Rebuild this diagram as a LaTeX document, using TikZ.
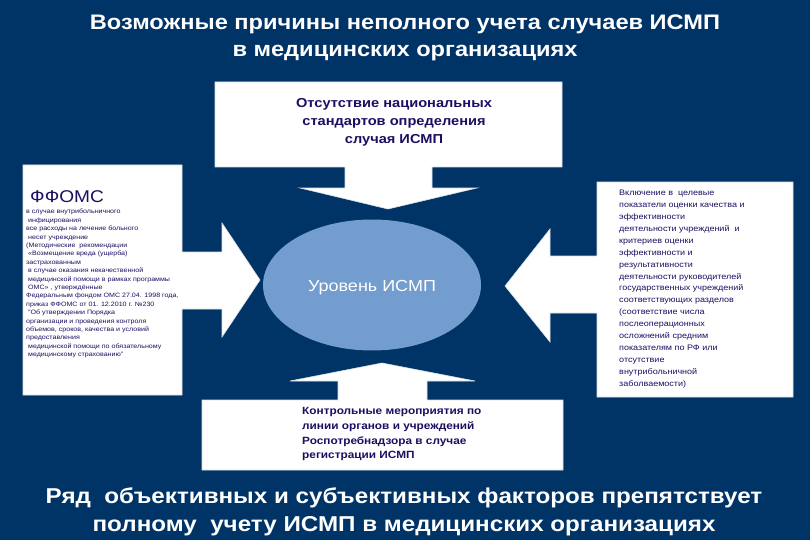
\documentclass[tikz,border=0pt]{standalone}
\usepackage{fontspec}
\setmainfont{Liberation Sans}
\usetikzlibrary{shapes.geometric}
\definecolor{navy}{RGB}{0,51,102}
\definecolor{ell}{RGB}{114,157,206}
\definecolor{ink}{RGB}{30,14,98}
\begin{document}
\begin{tikzpicture}[x=1pt,y=-1pt,
  txt/.style={xscale=1.125,inner sep=0pt,text=ink},
  callout/.style={fill=white,draw=white!85!navy,line width=0.6pt}]
\useasboundingbox (0,0) rectangle (810,540);
\fill[navy] (0,0) rectangle (810,540);
% title
\node[txt,text=white,font=\bfseries\fontsize{21}{27}\selectfont,align=center] (title) at (405,38)
 {Возможные причины неполного учета случаев ИСМП\\в медицинских организациях};
% top callout
\path[callout] (215,82) -- (562,82) -- (562,167) -- (432,167) -- (432,188) -- (477,188) -- (388,209)
  -- (300,188) -- (345,188) -- (345,167) -- (215,167) -- cycle;
\node[txt,font=\bfseries\fontsize{13}{18}\selectfont,align=center] (top) at (394,122)
 {Отсутствие национальных\\стандартов определения\\случая ИСМП};
% bottom callout
\path[callout] (202,470) -- (202,400) -- (338,400) -- (338,381) -- (290,381) -- (382,363) -- (475,381)
  -- (427,381) -- (427,400) -- (563,400) -- (563,470) -- cycle;
\node[txt,anchor=north west,font=\bfseries\fontsize{10.5}{14.8}\selectfont,align=left] (bot) at (302,407)
 {Контрольные мероприятия по\\линии органов и учреждений\\Роспотребнадзора в случае\\регистрации ИСМП};
% left callout
\path[callout] (23,165) -- (182,165) -- (182,252) -- (222,252) -- (222,223) -- (260,280) -- (222,337)
  -- (222,309) -- (182,309) -- (182,395) -- (23,395) -- cycle;
\node[txt,anchor=west,font=\fontsize{17}{18}\selectfont] (ff) at (30,197) {ФФОМС};
\node[txt,anchor=north west,font=\fontsize{6.3}{8.4}\selectfont,align=left] (ftxt) at (26,209)
 {в случае внутрибольничного\\
 \ инфицирования\\
 все расходы на лечение больного\\
 \ несет учреждение\\
 (Методические\ \ рекомендации\\
 \ «Возмещение вреда (ущерба)\\
 застрахованным\\
 \ в случае оказания некачественной\\
 \ медицинской помощи в рамках программы\\
 \ ОМС» , утверждённые\\
 Федеральным фондом ОМС 27.04. 1998 года,\\
 приказ ФФОМС от 01. 12.2010 г. №230\\
 \ "Об утверждении Порядка\\
 организации и проведения контроля\\
 объемов, сроков, качества и условий\\
 предоставления\\
 \ медицинской помощи по обязательному\\
 \ медицинскому страхованию"};
% right callout
\path[callout] (793,182) -- (597,182) -- (597,256) -- (550,256) -- (550,229) -- (505,286) -- (550,342)
  -- (550,313) -- (597,313) -- (597,397) -- (793,397) -- cycle;
\node[txt,anchor=north west,font=\fontsize{8.0}{11.9}\selectfont,align=left] (rtxt) at (619,190)
 {Включение в\ \ целевые\\
 показатели оценки качества и\\
 эффективности\\
 деятельности учреждений\ \ и\\
 критериев оценки\\
 эффективности и\\
 результативности\\
 деятельности руководителей\\
 государственных учреждений\\
 соответствующих разделов\\
 (соответствие числа\\
 послеоперационных\\
 осложнений средним\\
 показателям по РФ или\\
 отсутствие\\
 внутрибольничной\\
 заболваемости)};
% ellipse
\node[ellipse,fill=ell,minimum width=218pt,minimum height=131pt,inner sep=0pt] (lvl) at (372,285) {};
\node[txt,text=white,font=\fontsize{16}{18}\selectfont] (lvltxt) at (372,288) {Уровень ИСМП};
% bottom statement
\node[txt,text=white,font=\bfseries\fontsize{21.5}{28}\selectfont,align=center] (concl) at (404,512)
 {Ряд\ \ объективных и субъективных факторов препятствует\\полному\ \ учету ИСМП в медицинских организациях};
\end{tikzpicture}
\end{document}
